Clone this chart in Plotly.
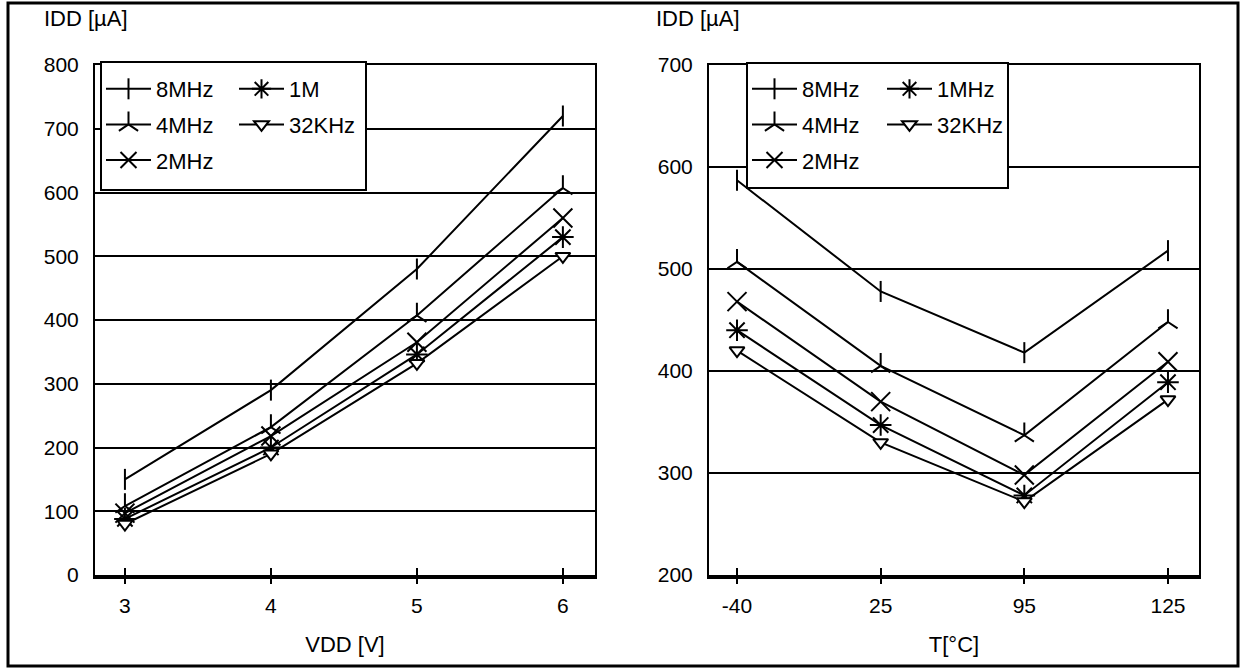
import plotly.graph_objects as go

# ---------------- data ----------------
vdd_labels = ["3", "4", "5", "6"]
vdd_8mhz = [150, 290, 480, 720]
vdd_4mhz = [108, 232, 407, 607]
vdd_2mhz = [97, 218, 365, 560]
vdd_1mhz = [88, 200, 346, 530]
vdd_32khz = [80, 190, 332, 500]

temp_labels = ["-40", "25", "95", "125"]
t_8mhz = [587, 478, 418, 518]
t_4mhz = [507, 405, 337, 448]
t_2mhz = [468, 370, 298, 409]
t_1mhz = [440, 347, 278, 389]
t_32khz = [420, 330, 272, 372]

left_names = ["8MHz", "4MHz", "2MHz", "1M", "32KHz"]
right_names = ["8MHz", "4MHz", "2MHz", "1MHz", "32KHz"]

FONT = "Liberation Sans, Arial, sans-serif"
W, H = 1241, 668
ML, MR, MT, MB = 95, 42, 65, 93
PW = W - ML - MR
PH = H - MT - MB


def px_x(p):
    return (p - ML) / PW


def px_y(p):
    return (H - MB - p) / PH


styles = [
    dict(symbol="line-ns", size=15),
    dict(symbol="y-up", size=16),
    dict(symbol="x-thin", size=19),
    dict(symbol="asterisk", size=18),
    dict(symbol="triangle-down", size=13),
]

fig = go.Figure()

left_series = [vdd_8mhz, vdd_4mhz, vdd_2mhz, vdd_1mhz, vdd_32khz]
right_series = [t_8mhz, t_4mhz, t_2mhz, t_1mhz, t_32khz]
left_legends = ["legend", "legend", "legend", "legend2", "legend2"]
right_legends = ["legend3", "legend3", "legend3", "legend4", "legend4"]

for i, (name, ys) in enumerate(zip(left_names, left_series)):
    fig.add_trace(go.Scatter(
        x=vdd_labels, y=ys, name=name, mode="lines+markers",
        line=dict(color="black", width=2),
        marker=dict(symbol=styles[i]["symbol"], size=styles[i]["size"],
                    color="white", line=dict(color="black", width=2)),
        xaxis="x", yaxis="y", legend=left_legends[i], legendgroup="L%d" % i,
    ))

for i, (name, ys) in enumerate(zip(right_names, right_series)):
    fig.add_trace(go.Scatter(
        x=temp_labels, y=ys, name=name, mode="lines+markers",
        line=dict(color="black", width=2),
        marker=dict(symbol=styles[i]["symbol"], size=styles[i]["size"],
                    color="white", line=dict(color="black", width=2)),
        xaxis="x2", yaxis="y2", legend=right_legends[i], legendgroup="R%d" % i,
    ))

left_dom = [0, px_x(595)]
right_dom = [px_x(709), 1]
left_range = [-0.205, 3.22]
right_range = [-0.195, 3.216]

tick_font = dict(family=FONT, size=21, color="black")
title_font = dict(family=FONT, size=22, color="black")

common_x = dict(type="category", showgrid=False, showline=True, linecolor="black",
                linewidth=2, mirror=True, ticks="outside", ticklen=7, tickwidth=2,
                tickcolor="black", tickfont=tick_font, ticklabelstandoff=4,
                zeroline=False)
common_y = dict(showline=True, linecolor="black", linewidth=2, mirror=True,
                showgrid=True, gridcolor="black", gridwidth=2, ticks="",
                tickfont=tick_font, dtick=100, zeroline=False, ticklabelstandoff=10)

fig.update_layout(
    width=W, height=H,
    margin=dict(l=ML, r=MR, t=MT, b=MB),
    paper_bgcolor="white", plot_bgcolor="white",
    font=dict(family=FONT, size=21, color="black"),
    showlegend=True,
    xaxis=dict(domain=left_dom, anchor="y", range=left_range,
               title=dict(text="VDD [V]", font=title_font, standoff=20), **common_x),
    yaxis=dict(domain=[0, 1], anchor="x", range=[0, 800], tick0=0, **common_y),
    xaxis2=dict(domain=right_dom, anchor="y2", range=right_range,
                title=dict(text="T[°C]", font=title_font, standoff=20), **common_x),
    yaxis2=dict(domain=[0, 1], anchor="x2", range=[200, 700], tick0=200, **common_y),
    xaxis3=dict(type="category", overlaying="x", anchor="y", range=left_range,
                showline=True, linewidth=4, linecolor="black", ticks="inside",
                ticklen=7, tickwidth=2, tickcolor="black", showticklabels=False,
                showgrid=False, zeroline=False),
    xaxis4=dict(type="category", overlaying="x2", anchor="y2", range=right_range,
                showline=True, linewidth=4, linecolor="black", ticks="inside",
                ticklen=7, tickwidth=2, tickcolor="black", showticklabels=False,
                showgrid=False, zeroline=False),
)

# invisible helper traces so the overlay tick axes know the categories
fig.add_trace(go.Scatter(x=vdd_labels, y=vdd_32khz, xaxis="x3", yaxis="y",
                         mode="markers", marker=dict(opacity=0), showlegend=False,
                         hoverinfo="skip"))
fig.add_trace(go.Scatter(x=temp_labels, y=t_32khz, xaxis="x4", yaxis="y2",
                         mode="markers", marker=dict(opacity=0), showlegend=False,
                         hoverinfo="skip"))

leg_common = dict(bgcolor="rgba(0,0,0,0)", borderwidth=0,
                  font=dict(family=FONT, size=22, color="black"),
                  xanchor="left", yanchor="top", itemwidth=45, tracegroupgap=4,
                  orientation="v")
fig.update_layout(
    legend=dict(x=px_x(101), y=px_y(68), **leg_common),
    legend2=dict(x=px_x(234), y=px_y(68), **leg_common),
    legend3=dict(x=px_x(747), y=px_y(68), **leg_common),
    legend4=dict(x=px_x(882), y=px_y(68), **leg_common),
)

shapes = [
    # outer frame
    dict(type="rect", xref="paper", yref="paper", x0=px_x(8), x1=px_x(1238),
         y0=px_y(666), y1=px_y(3), line=dict(color="black", width=3), layer="above"),
    # legend boxes
    dict(type="rect", xref="paper", yref="paper", x0=px_x(101), x1=px_x(366),
         y0=px_y(190), y1=px_y(62), line=dict(color="black", width=2),
         fillcolor="white", layer="above"),
    dict(type="rect", xref="paper", yref="paper", x0=px_x(747), x1=px_x(1008),
         y0=px_y(188), y1=px_y(63), line=dict(color="black", width=2),
         fillcolor="white", layer="above"),
]
fig.update_layout(shapes=shapes)

fig.add_annotation(text="IDD [µA]", xref="paper", yref="paper", x=px_x(42), y=px_y(18),
                   xanchor="left", yanchor="middle", showarrow=False, font=title_font)
fig.add_annotation(text="IDD [µA]", xref="paper", yref="paper", x=px_x(654), y=px_y(18),
                   xanchor="left", yanchor="middle", showarrow=False, font=title_font)

fig.write_html(
    "out.html",
    config={"displayModeBar": False},
    post_script="document.body.style.margin='0';document.body.style.overflow='hidden';",
)
